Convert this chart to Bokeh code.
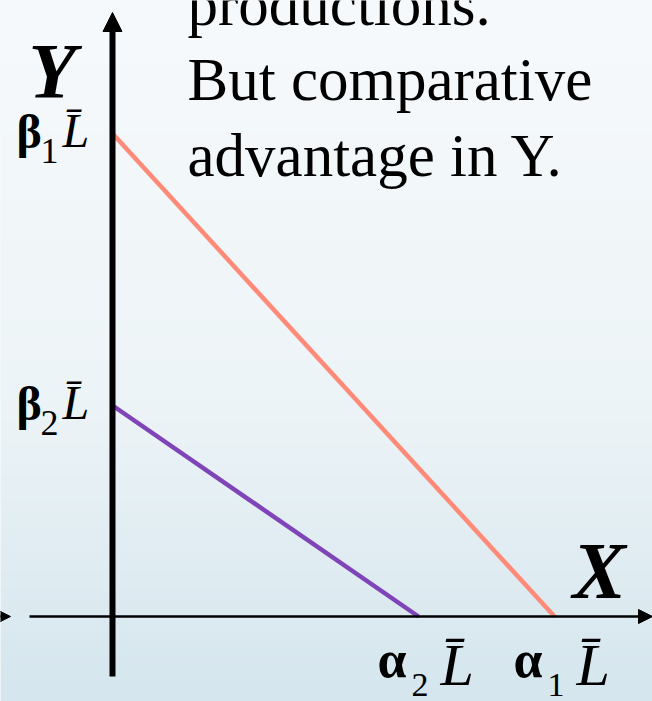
import numpy as np
from bokeh.plotting import figure
from bokeh.models import Range1d, Arrow, NormalHead, Label
from bokeh.core.properties import value
from bokeh.embed import file_html
from bokeh.resources import INLINE

# ---- data (units: arbitrary) ----
countries = ["1", "2"]
alpha = [4.42, 3.06]      # X intercepts  alpha_i * L-bar
beta = [4.83, 2.11]       # Y intercepts  beta_i * L-bar
line_colors = ["#FF8A78", "#7E44B8"]
para_lines = ["productions.", "But comparative", "advantage in Y."]

W, H = 652, 701
X0, X1 = -1.12, 5.40
Y0, Y1 = -0.85, 6.16

p = figure(width=W, height=H, output_backend="svg", toolbar_location=None,
           x_range=Range1d(X0, X1), y_range=Range1d(Y0, Y1),
           x_axis_location=None, y_axis_location=None, min_border=0)
p.grid.visible = False
p.outline_line_color = None
p.background_fill_color = "#EEF5F8"
p.border_fill_color = "#EEF5F8"

# background gradient (decorative)
rows = H
img = np.zeros((rows, 1), dtype=np.uint32)
view = img.view(dtype=np.uint8).reshape((rows, 1, 4))
top = np.array([247, 250, 252])
mid = np.array([237, 244, 247])
bot = np.array([213, 230, 238])
for i in range(rows):
    py = H - i
    if py < 400:
        t = py / 400
        c = top + (mid - top) * t
    else:
        t = (py - 400) / (H - 400)
        c = mid + (bot - mid) * t
    view[i, 0, 0:3] = c.astype(np.uint8)
    view[i, 0, 3] = 255
p.image_rgba(image=[img], x=X0, y=Y0, dw=X1 - X0, dh=Y1 - Y0)

# production possibility frontiers
for a, b, col in zip(alpha, beta, line_colors):
    p.line(x=[0, a], y=[b, 0], line_color=col, line_width=4.5)

# axes
p.add_layout(Arrow(end=NormalHead(size=14, line_width=1, fill_color="black", line_color="black"),
                   x_start=-0.83, y_start=0, x_end=X1, y_end=0,
                   line_width=2.5, line_color="black"))
p.add_layout(Arrow(end=NormalHead(size=19, line_width=1, fill_color="black", line_color="black"),
                   x_start=0, y_start=-0.60, x_end=0, y_end=6.04,
                   line_width=6, line_color="black"))
# remnant arrow head at the far left edge
p.add_layout(Arrow(end=NormalHead(size=14, line_width=1, fill_color="black", line_color="black"),
                   x_start=X0 - 0.3, y_start=0, x_end=-1.02, y_end=0,
                   line_width=2.5, line_color="black"))

serif = value("Liberation Serif")

# axis names
p.add_layout(Label(x=-0.84, y=5.03, text="Y", text_font="Liberation Serif",
                   text_font_style="bold italic", text_font_size="78px", text_color="black"))
p.add_layout(Label(x=4.60, y=0.02, text="X", text_font="Liberation Serif",
                   text_font_style="bold italic", text_font_size="80px", text_color="black"))

# beta labels on Y axis
zeros_b = [0] * len(beta)
p.text(x=zeros_b, y=beta, text=["β"] * len(beta), text_font=serif, text_font_style="bold",
       text_font_size="48px", x_offset=-96, y_offset=24, text_baseline="bottom")
p.text(x=zeros_b, y=beta, text=countries, text_font=serif,
       text_font_size="36px", x_offset=-72, y_offset=29, text_baseline="bottom")
p.text(x=zeros_b, y=beta, text=["L\u0304"] * len(beta), text_font=serif, text_font_style="italic",
       text_font_size="48px", x_offset=-50, y_offset=23, text_baseline="bottom")

# alpha labels on X axis
zeros_a = [0] * len(alpha)
p.text(x=alpha, y=zeros_a, text=["α"] * len(alpha), text_font=serif, text_font_style="bold",
       text_font_size="52px", x_offset=-41, y_offset=71, text_baseline="bottom")
p.text(x=alpha, y=zeros_a, text=countries, text_font=serif,
       text_font_size="34px", x_offset=-7, y_offset=79, text_baseline="bottom")
p.text(x=alpha, y=zeros_a, text=["L\u0304"] * len(alpha), text_font=serif, text_font_style="italic",
       text_font_size="60px", x_offset=22, y_offset=81, text_baseline="bottom")

# paragraph text
para_y = [5.90, 5.15, 4.39]
p.text(x=[0.75] * 3, y=para_y, text=para_lines, text_font=serif,
       text_font_size="61px", text_color="black", text_baseline="bottom", y_offset=11)

open("out.html", "w").write(file_html(p, INLINE))
